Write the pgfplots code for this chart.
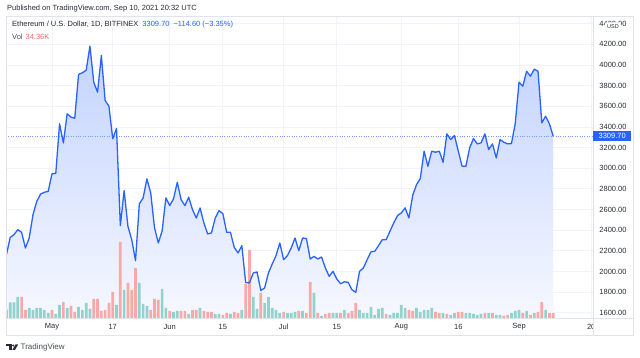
\documentclass[border=0pt]{standalone}
\usepackage{pgfplots}
\pgfplotsset{compat=1.18}
\usepackage{pgfplotstable}
\usepackage{fontspec}
\setmainfont{Liberation Sans}
\definecolor{tvblue}{RGB}{41,98,255}
\definecolor{volgreen}{RGB}{146,210,204}
\definecolor{volred}{RGB}{247,169,167}
\definecolor{gridc}{RGB}{240,243,250}
\definecolor{framec}{RGB}{224,227,235}
\definecolor{txt}{RGB}{40,44,54}
\definecolor{filltop}{RGB}{195,211,255}
\definecolor{fillbot}{RGB}{246,248,255}
\definecolor{redtxt}{RGB}{242,110,108}
\definecolor{dotc}{RGB}{120,155,255}

\pgfplotstableread{
d p
-12 2162
-11 2330
-10 2357
-9 2405
-8 2379
-7 2227
-6 2324
-5 2550
-4 2680
-3 2750
-2 2767
-1 2776
0 2945
1 2950
2 3430
3 3245
4 3527
5 3495
6 3485
7 3910
8 3925
9 3950
10 4183
11 3834
12 3737
13 4093
14 3656
15 3601
16 3285
17 3385
18 2444
19 2783
20 2437
21 2308
22 2104
23 2654
24 2712
25 2897
26 2761
27 2424
28 2276
29 2391
30 2712
31 2638
32 2702
33 2864
34 2696
35 2638
36 2719
37 2599
38 2518
39 2615
40 2470
41 2363
42 2373
43 2518
44 2589
45 2560
46 2379
47 2379
48 2233
49 2179
50 2250
51 1894
52 1888
53 1985
54 1995
55 1816
56 1840
57 1985
58 2072
59 2153
60 2276
61 2114
62 2153
63 2227
64 2324
65 2201
66 2324
67 2320
68 2121
69 2146
70 2121
71 2140
72 2033
73 1952
74 2001
75 1927
76 1881
77 1900
78 1894
79 1823
80 1797
81 2001
82 2033
83 2114
84 2190
85 2195
86 2250
87 2308
88 2308
89 2389
90 2470
91 2541
92 2567
93 2616
94 2518
95 2738
96 2841
97 2900
98 3165
99 3019
100 3165
101 3155
102 3165
103 3058
104 3333
105 3278
106 3317
107 3165
108 3019
109 3019
110 3197
111 3288
112 3236
113 3246
114 3333
115 3181
116 3236
117 3100
118 3278
119 3252
120 3236
121 3239
122 3433
123 3834
124 3795
125 3940
126 3892
127 3960
128 3940
129 3440
130 3504
131 3430
132 3310
}\pricedata

\pgfplotstableread{
d h
-12 8.3
-8 21
-7 8
0 8
3 16
5 12
6 6
11 19
12 19
13 7
14 8
15 15
16 26
18 76
20 35
21 28
22 50
26 8
27 19
28 18
31 7
34 7
35 7
37 8
38 8
40 7
41 6
42 6
45 3
46 5
48 6
49 5
51 34
52 68
55 25
61 6
65 7
67 5
68 36
70 5
72 4
73 5
76 5
78 5
79 7
80 15
88 4
94 8
95 7
101 6
102 5
104 4
107 6
108 6
114 5
116 5
119 2
120 3
124 5
126 3
128 6
129 16
131 5
132 5
}\volred

\pgfplotstableread{
d h
-11 15.7
-10 15.7
-9 21
-6 10
-5 8
-4 10
-3 10
-2 8
-1 5
1 4
2 13
4 10
7 11
8 8
9 15
10 9
17 13
19 28
23 35
24 14
25 12
29 29
30 10
32 6
33 7
36 4
39 10
43 4
44 4
47 4
50 8
53 21
54 9
56 15
57 21
58 10
59 8
60 5
62 5
63 5
64 6
66 7
69 25
71 2
74 5
75 5
77 8
81 8
82 5
83 5
84 11
85 3
86 9
87 10
89 3
90 5
91 5
92 13
93 10
96 10
97 6
98 8
99 8
100 10
103 5
105 3
106 5
109 5
110 5
111 4
112 3
113 4
115 5
117 3
118 3
121 5
122 7
123 8
125 7
127 5
130 8
}\volgreen

\begin{document}
\begin{tikzpicture}[x=1pt,y=1pt]
\path[use as bounding box] (0,0) rectangle (640,358);
\begin{axis}[
  at={(6pt,40pt)}, anchor=south west, scale only axis,
  width=587pt, height=302pt,
  xmin=-12.11, xmax=142.48, ymin=1549, ymax=4475,
  axis line style={draw=none}, tick style={draw=none},
  major tick length=0pt,
  grid=major, major grid style={gridc, line width=0.8pt},
  xtick={0,16,31,45,61,75,92,107,123,142},
  xticklabels={May,17,Jun,15,Jul,15,Aug,16,Sep,20},
  ytick={1600,1800,2000,2200,2400,2600,2800,3000,3200,3400,3600,3800,4000,4200,4400},
  yticklabels={1600.00,1800.00,2000.00,2200.00,2400.00,2600.00,2800.00,3000.00,3200.00,3400.00,3600.00,3800.00,4000.00,4200.00,4400.00},
  yticklabel pos=right,
  ticklabel style={font=\fontsize{7.5}{9}\selectfont, text=txt},
  xticklabel style={anchor=center, yshift=-9pt},
  yticklabel style={anchor=center, xshift=20pt},
]
\addplot[draw=none, top color=filltop, bottom color=fillbot]
  table[x=d, y=p] {\pricedata} -- (axis cs:132,1549) -- (axis cs:-12,1549) -- cycle;
\addplot[ybar, bar width=2.7pt, bar shift=0pt, draw=none, fill=volred]
  table[x=d, y expr=1549+\thisrow{h}*9.69] {\volred};
\addplot[ybar, bar width=2.7pt, bar shift=0pt, draw=none, fill=volgreen]
  table[x=d, y expr=1549+\thisrow{h}*9.69] {\volgreen};
\addplot[dotc, line width=0.6pt, dash pattern=on 0.8pt off 1.6pt] coordinates {(-12.11,3309.7) (142.48,3309.7)};
\addplot[tvblue, line width=1.3pt, line join=round] table[x=d, y=p] {\pricedata};
\coordinate (cp) at (axis cs:142.48,3309.7);
\end{axis}
% bottom-right corner box
\fill[white] (593,23) rectangle (633,39.6);
% frame
\draw[framec, line width=0.8pt] (6,23) rectangle (633,342);
\draw[framec, line width=0.8pt] (6,40) -- (633,40);
\draw[framec, line width=0.8pt] (593,23) -- (593,342);
% current price label
\node[anchor=west, fill=tvblue, text=white, inner sep=0pt, minimum width=38pt, minimum height=10pt,
  font=\fontsize{7.5}{9}\selectfont] at (cp) {3309.70};
% USD badge
\node[fill=white, draw=framec, rounded corners=1.5pt, inner sep=1pt, font=\fontsize{5.5}{6}\selectfont, text=txt,
  minimum width=16pt, minimum height=9pt] at (613,331) {USD};
% header texts
\node[anchor=west, inner sep=0pt, font=\fontsize{7.5}{9}\selectfont, text=txt] at (7,349)
  {Published on TradingView.com, Sep 10, 2021 20:32 UTC};
\node[anchor=west, inner sep=0pt, font=\fontsize{7.5}{9}\selectfont, text=txt] at (12,333)
  {Ethereum / U.S. Dollar, 1D, BITFINEX\hspace{4pt}\textcolor{tvblue}{3309.70\hspace{4pt}−114.60 (−3.35\%)}};
\node[anchor=west, inner sep=0pt, font=\fontsize{7.5}{9}\selectfont, text=txt!80] at (12,321)
  {Vol\hspace{3pt}\textcolor{redtxt}{34.36K}};
% TradingView logo
\fill[txt] (6.2,13.6) rectangle (11.6,11.6);
\fill[txt] (9.2,11.6) rectangle (11.6,8.2);
\fill[txt] (13.3,12.5) circle (1.1);
\fill[txt] (12.4,8.2) -- (15.6,13.6) -- (18.2,13.6) -- (15.0,8.2) -- cycle;
\node[anchor=west, inner sep=0pt, font=\fontsize{8}{9}\selectfont, text=txt!85] at (20.5,11) {TradingView};
\end{tikzpicture}
\end{document}
